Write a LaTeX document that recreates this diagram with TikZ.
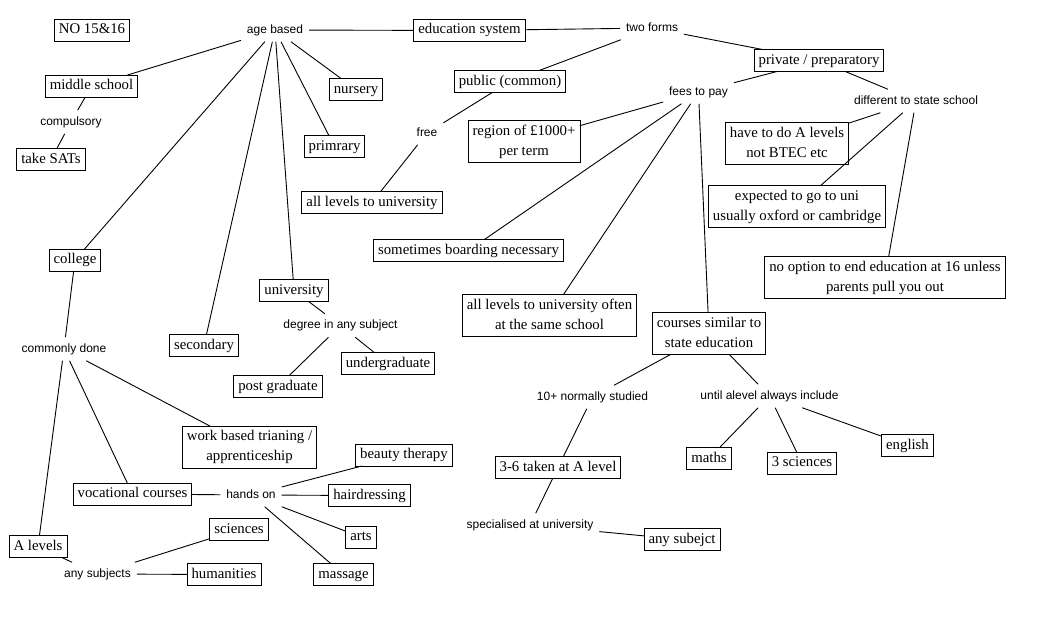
\documentclass[tikz,border=0pt]{standalone}
\usepackage{fontspec}
\setmainfont{Liberation Serif}
\newfontfamily\lblfont{Liberation Sans}
\newcommand\mystr{\vrule height 10.5pt depth 3.5pt width 0pt}
\tikzset{
  box/.style={draw, line width=0.9pt, font=\fontsize{14.8}{20}\selectfont, inner xsep=4.5pt, inner ysep=4pt, text height=10.5pt, text depth=3.5pt, outer sep=0pt},
  boxtwo/.style={draw, line width=0.9pt, font=\fontsize{14.8}{20}\selectfont, inner xsep=4.5pt, inner ysep=4pt, align=center, outer sep=0pt},
  lbl/.style={font=\lblfont\fontsize{12}{14}\selectfont, inner xsep=6pt, inner ysep=6pt, text height=9pt, text depth=2.5pt, outer sep=0pt},
  edge/.style={line width=0.9pt}
}
\begin{document}
\begin{tikzpicture}[x=1pt,y=-1pt]
\fill[white] (0,0) rectangle (1054,626);
\useasboundingbox (0,0) rectangle (1054,626);

% boxes
\node[box] (no15) at (92,30) {NO 15\&16};
\node[box] (middle) at (91.5,86) {middle school};
\node[box] (sats) at (51,159.5) {take SATs};
\node[box] (nursery) at (356,89.5) {nursery};
\node[box] (primrary) at (334.5,146.5) {primrary};
\node[box] (edsys) at (469.5,30.5) {education system};
\node[box] (public) at (510,81.5) {public (common)};
\node[boxtwo] (region) at (524,141.5) {\mystr region of £1000+\\\mystr per term};
\node[box] (alluni) at (372,202.5) {all levels to university};
\node[box] (private) at (819,60.5) {private / preparatory};
\node[boxtwo] (havetodo) at (787,143.5) {\mystr have to do A levels\\\mystr not BTEC etc};
\node[boxtwo] (expected) at (797,206.5) {\mystr expected to go to uni\\\mystr usually oxford or cambridge};
\node[boxtwo] (nooption) at (885,277.5) {\mystr no option to end education at 16 unless\\\mystr parents pull you out};
\node[box] (boarding) at (468.5,250.5) {sometimes boarding necessary};
\node[boxtwo] (allunioften) at (549.5,315.5) {\mystr all levels to university often\\\mystr at the same school};
\node[boxtwo] (courses) at (709,333.5) {\mystr courses similar to\\\mystr state education};
\node[box] (college) at (75,260) {college};
\node[box] (university) at (294,290.5) {university};
\node[box] (secondary) at (204,345.5) {secondary};
\node[box] (undergrad) at (388,363.5) {undergraduate};
\node[box] (postgrad) at (278,386.5) {post graduate};
\node[boxtwo] (workbased) at (249.5,447) {\mystr work based trianing /\\\mystr apprenticeship};
\node[box] (beauty) at (404,455) {beauty therapy};
\node[box] (vocational) at (132.5,494) {vocational courses};
\node[box] (hairdressing) at (369.5,495.5) {hairdressing};
\node[box] (arts) at (361,537) {arts};
\node[box] (alevels) at (38,546.5) {A levels};
\node[box] (sciences) at (239,529.5) {sciences};
\node[box] (humanities) at (224,574.5) {humanities};
\node[box] (massage) at (343.5,574.5) {massage};
\node[box] (threesix) at (558,467.5) {3-6 taken at A level};
\node[box] (maths) at (709,458.5) {maths};
\node[box] (threesci) at (802,463) {3 sciences};
\node[box] (english) at (907.5,445.5) {english};
\node[box] (anysubj) at (682,539.5) {any subejct};

% labels
\node[lbl] (agebased) at (275,30) {age based};
\node[lbl] (twoforms) at (652,28) {two forms};
\node[lbl] (fees) at (698.5,92) {fees to pay};
\node[lbl] (different) at (916,101) {different to state school};
\node[lbl] (compulsory) at (71,122) {compulsory};
\node[lbl] (free) at (427,133) {free};
\node[lbl] (degree) at (340.5,325.5) {degree in any subject};
\node[lbl] (commonly) at (64,349) {commonly done};
\node[lbl] (handson) at (251,495) {hands on};
\node[lbl] (anysubjects) at (97.5,574) {any subjects};
\node[lbl] (tenplus) at (592.5,397) {10+ normally studied};
\node[lbl] (until) at (769.5,396) {until alevel always include};
\node[lbl] (specialised) at (530,525) {specialised at university};

% connectors
\draw[edge] (agebased) -- (edsys);
\draw[edge] (edsys) -- (twoforms);
\draw[edge] (twoforms) -- (public);
\draw[edge] (twoforms) -- (private);
\draw[edge] (agebased) -- (middle);
\draw[edge] (middle) -- (compulsory);
\draw[edge] (compulsory) -- (sats);
\draw[edge] (agebased) -- (nursery);
\draw[edge] (agebased) -- (primrary);
\draw[edge] (agebased) -- (college);
\draw[edge] (agebased) -- (secondary);
\draw[edge] (agebased) -- (university);
\draw[edge] (public) -- (free);
\draw[edge] (free) -- (alluni);
\draw[edge] (private) -- (fees);
\draw[edge] (private) -- (different);
\draw[edge] (fees) -- (region);
\draw[edge] (fees) -- (boarding);
\draw[edge] (fees) -- (allunioften);
\draw[edge] (fees) -- (courses);
\draw[edge] (different) -- (havetodo);
\draw[edge] (different) -- (expected);
\draw[edge] (different) -- (nooption);
\draw[edge] (university) -- (degree);
\draw[edge] (degree) -- (postgrad);
\draw[edge] (degree) -- (undergrad);
\draw[edge] (college) -- (commonly);
\draw[edge] (commonly) -- (alevels);
\draw[edge] (commonly) -- (vocational);
\draw[edge] (commonly) -- (workbased);
\draw[edge] (vocational) -- (handson);
\draw[edge] (handson) -- (beauty);
\draw[edge] (handson) -- (hairdressing);
\draw[edge] (handson) -- (arts);
\draw[edge] (handson) -- (massage);
\draw[edge] (alevels) -- (anysubjects);
\draw[edge] (anysubjects) -- (sciences);
\draw[edge] (anysubjects) -- (humanities);
\draw[edge] (courses) -- (tenplus);
\draw[edge] (courses) -- (until);
\draw[edge] (tenplus) -- (threesix);
\draw[edge] (until) -- (maths);
\draw[edge] (until) -- (threesci);
\draw[edge] (until) -- (english);
\draw[edge] (threesix) -- (specialised);
\draw[edge] (specialised) -- (anysubj);
\end{tikzpicture}
\end{document}
